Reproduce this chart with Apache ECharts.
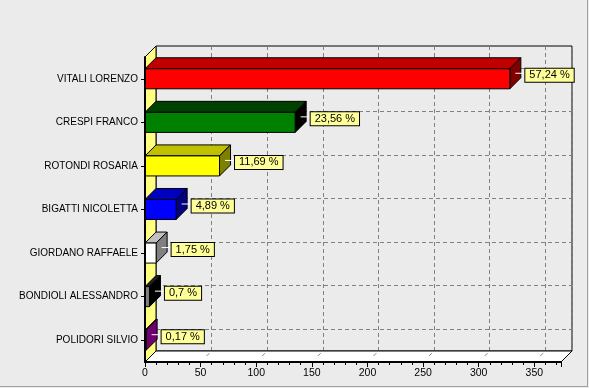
<!DOCTYPE html>
<html>
<head>
<meta charset="utf-8">
<script src="https://cdn.jsdelivr.net/npm/echarts@6/dist/echarts.min.js"></script>
<style>
html,body{margin:0;padding:0;background:#EBEBEB;}
#c{width:589px;height:388px;}
</style>
</head>
<body>
<div id="c"></div>
<script>
// ---- data ----
const categories = ['VITALI LORENZO','CRESPI FRANCO','ROTONDI ROSARIA','BIGATTI NICOLETTA','GIORDANO RAFFAELE','BONDIOLI ALESSANDRO','POLIDORI SILVIO'];
const votes = [328, 135, 67, 28, 10, 4, 1];
const percents = [57.24, 23.56, 11.69, 4.89, 1.75, 0.7, 0.17];
const xTickValues = [0, 50, 100, 150, 200, 250, 300, 350];

// ---- styles ----
const FONT = 'Liberation Sans';
const DEPTH = 11;
const frontColors = ['#FF0000','#008000','#FFFF00','#0000FF','#FFFFFF','#808080','#800080'];
const topColors   = ['#C00000','#004000','#C0C000','#0000C0','#C0C0C0','#202020','#600060'];
const sideColors  = ['#800000','#000000','#808000','#000080','#808080','#000000','#700070'];

const barData = votes.map((v, i) => [v, i, percents[i]]);

function fmtPct(p) { return String(p).replace('.', ',') + ' %'; }

function renderBar(params, api) {
  const i = api.value(1);
  const v = api.value(0);
  const pc = api.value(2);
  const p0 = api.coord([0, i]);
  const p1 = api.coord([v, i]);
  const band = api.size([0, 1])[1];
  const h = band * 0.46;
  const x0 = p0[0], x1 = p1[0];
  const yc = p0[1];
  const yt = yc - h / 2, yb = yc + h / 2;
  const D = DEPTH;
  const stroke = {stroke: '#000', lineWidth: 1};
  const lx = x1 + D / 2, ly = yc - D / 2;
  return {
    type: 'group',
    children: [
      {type: 'polygon', shape: {points: [[x0, yt], [x0 + D, yt - D], [x1 + D, yt - D], [x1, yt]]},
        style: Object.assign({fill: topColors[i]}, stroke)},
      {type: 'polygon', shape: {points: [[x1, yt], [x1 + D, yt - D], [x1 + D, yb - D], [x1, yb]]},
        style: Object.assign({fill: sideColors[i]}, stroke)},
      {type: 'rect', shape: {x: x0, y: yt, width: Math.max(x1 - x0, 0.5), height: h},
        style: Object.assign({fill: frontColors[i]}, stroke)},
      {type: 'line', shape: {x1: lx, y1: ly, x2: lx + 10, y2: ly},
        style: {stroke: '#FFFFFF', lineWidth: 1}},
      {type: 'text', x: lx + 10, y: ly + 2,
        style: {text: fmtPct(pc), fill: '#000', font: '11px "' + FONT + '"',
          align: 'left', verticalAlign: 'middle',
          backgroundColor: '#FFFF99', borderColor: '#000', borderWidth: 1,
          padding: [1, 4, 1, 4]}}
    ]
  };
}

function renderWalls(params, api) {
  const cs = params.coordSys;
  const D = DEPTH;
  const x = cs.x, y = cs.y, w = cs.width, h = cs.height;
  const children = [
    {type: 'polygon', shape: {points: [[x, y], [x + D, y - D], [x + D, y + h - D], [x, y + h]]},
      style: {fill: '#FFFF80', stroke: '#000', lineWidth: 1}},
    {type: 'polygon', shape: {points: [[x, y + h], [x + D, y + h - D], [x + w + D, y + h - D], [x + w, y + h]]},
      style: {fill: '#FFFFFF', stroke: '#000', lineWidth: 1}}
  ];
  xTickValues.forEach(t => {
    if (t === 0) return;
    const px = api.coord([t, 0])[0];
    children.push({type: 'line',
      shape: {x1: px + D * 0.55, y1: y + h - D * 0.55, x2: px + D * 0.8, y2: y + h - D * 0.8},
      style: {stroke: '#808080', lineWidth: 1}});
  });
  return {type: 'group', children};
}

const chart = echarts.init(document.getElementById('c'), null, {renderer: 'canvas'});
const gridLine = {color: '#808080', width: 1, type: [4, 3]};
chart.setOption({
  backgroundColor: '#EBEBEB',
  animation: false,
  grid: [
    {left: 156, top: 46, width: 416, height: 305, show: true, backgroundColor: 'transparent', borderColor: '#000', borderWidth: 1, containLabel: false},
    {left: 145, top: 57, width: 416, height: 305, containLabel: false}
  ],
  xAxis: [
    {gridIndex: 0, type: 'value', min: 0, max: 374, interval: 50,
      axisLine: {show: false}, axisTick: {show: false}, axisLabel: {show: false},
      splitLine: {show: true, lineStyle: gridLine}},
    {gridIndex: 1, type: 'value', min: 0, max: 374, interval: 50, z: 10,
      axisLine: {show: true, lineStyle: {color: '#000', width: 2}},
      axisTick: {show: true, length: 5, lineStyle: {color: '#000', width: 1}},
      minorTick: {show: true, splitNumber: 5, length: 3, lineStyle: {color: '#000', width: 1}},
      axisLabel: {showMaxLabel: false, margin: 6, color: '#000', fontSize: 10.5, fontFamily: FONT},
      splitLine: {show: false}}
  ],
  yAxis: [
    {gridIndex: 0, type: 'category', data: categories, inverse: true,
      axisLine: {show: false}, axisTick: {show: false}, axisLabel: {show: false},
      splitLine: {show: true, alignWithLabel: true, lineStyle: gridLine}},
    {gridIndex: 1, type: 'category', data: categories, inverse: true, z: 10,
      axisLine: {show: true, lineStyle: {color: '#000', width: 2}},
      axisTick: {show: true, length: 4, alignWithLabel: true, lineStyle: {color: '#000', width: 1}},
      axisLabel: {margin: 7, color: '#000', fontSize: 10, fontFamily: FONT},
      splitLine: {show: false}}
  ],
  series: [
    {type: 'custom', xAxisIndex: 1, yAxisIndex: 1, data: [[0, 0]], renderItem: renderWalls, z: 1, silent: true, clip: false},
    {type: 'custom', xAxisIndex: 1, yAxisIndex: 1, data: barData,
      encode: {x: 0, y: 1}, renderItem: renderBar, z: 3, clip: false}
  ],
  graphic: [
    {type: 'rect', shape: {x: 587, y: 0, width: 1, height: 387}, style: {fill: '#A0A0A0'}, silent: true},
    {type: 'rect', shape: {x: 0, y: 386, width: 588, height: 1}, style: {fill: '#A0A0A0'}, silent: true}
  ]
});
</script>
</body>
</html>
